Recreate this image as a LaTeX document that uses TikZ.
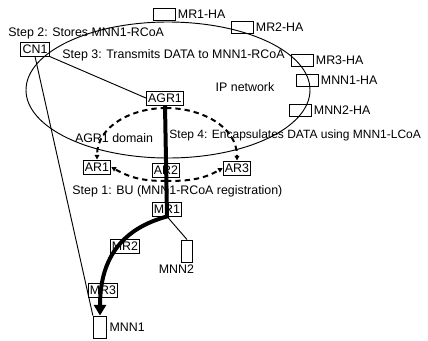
\documentclass[tikz,border=0pt]{standalone}
\usepackage{fontspec}
\setmainfont{Liberation Sans}
\usetikzlibrary{arrows.meta}

\begin{document}
\begin{tikzpicture}[x=0.75pt, y=-0.75pt, font=\fontsize{9.3}{11}\selectfont, line width=0.7pt,
					box/.style={draw, inner xsep=1.3pt, inner ysep=0pt, minimum height=10.5pt},
					habox/.style={draw, minimum width=16.5pt, minimum height=9pt, inner sep=0pt},
					hostbox/.style={draw, minimum width=10pt, minimum height=16.5pt, inner sep=0pt},
					data/.style={line width=3pt, -{Triangle[length=8pt, width=9pt]}},
					adv/.style={line width=1.5pt, dash pattern=on 4pt off 3pt, -{Triangle[length=3.5pt, width=3.5pt]}}]
					\useasboundingbox (0,0) rectangle (428,340);
					\draw (168,90) ellipse [x radius=106.5pt, y radius=51pt];
					\node[box] (CN1) at (35,49) {CN1};
					\node[box] (AGR1) at (165,98) {AGR1};
					\node[box] (AR1) at (97,167) {AR1}; \node[box] (AR2) at (166,170) {AR2}; \node[box] (AR3) at (237,168) {AR3};
					\node[box] (MR1) at (167,209) {MR1}; \node[box] (MR2) at (125,246) {MR2}; \node[box] (MR3) at (103,290) {MR3};
					\node[hostbox, label={[inner sep=1.5pt]right:MNN1}] (MNN1) at (100,327) {};
					\node[hostbox, minimum width=8pt, label={[inner sep=1.5pt, xshift=-8pt]below:MNN2}] (MNN2) at (187,251) {};
					\node[habox, label={[inner sep=1.5pt]right:MR1-HA}] (MR1HA) at (164,14) {};
					\node[habox, label={[inner sep=1.5pt]right:MR2-HA}] (MR2HA) at (242,27) {};
					\node[habox, label={[inner sep=1.5pt]right:MR3-HA}] (MR3HA) at (302,60) {};
					\node[habox, label={[inner sep=1.5pt]right:MNN1-HA}] (MNN1HA) at (307,80) {};
					\node[habox, label={[inner sep=1.5pt]right:MNN2-HA}] (MNN2HA) at (300,110) {};
					\node[anchor=west, inner sep=0pt] (step2) at (8,33) {Step 2: Stores MNN1-RCoA};
					\node[anchor=west, inner sep=0pt] (step3) at (62,55) {Step 3: Transmits DATA to MNN1-RCoA};
					\node (ipnet) at (245,87) {IP network};
					\node (domain) at (114,138) {AGR1 domain};
					\node[anchor=west, inner sep=0pt, font=\fontsize{9}{11}\selectfont] (step4) at (169,135) {Step 4: Encapsulates DATA using MNN1-LCoA};
					\node[anchor=west, inner sep=0pt] (step1) at (72,191) {Step 1: BU (MNN1-RCoA registration)};
					\coordinate (dtop) at (166,108); \coordinate (dbot) at (166,181);
					\draw[adv] (dtop) to[out=180, in=90] (AR1.north); \draw[adv] (dtop) to[out=0, in=90] (AR3.north);
					\draw[adv] (dbot) to[out=180, in=-30] (AR1.east); \draw[adv] (dbot) to[out=0, in=210] (AR3.west);
					\draw (CN1.south east) -- (AGR1.west); \draw (CN1.south) -- (MNN1.north west); \draw (MR1.south) -- (MNN2.north);
					\draw[data] (AGR1.south) -- (MR1.south) .. controls (125,228) and (100,255) .. (MNN1.north);
				\end{tikzpicture}
\end{document}
